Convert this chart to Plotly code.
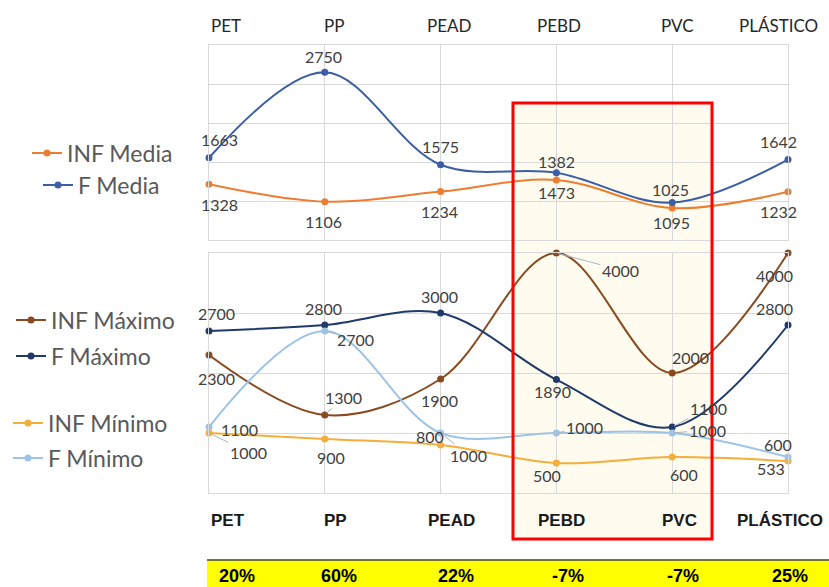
import plotly.graph_objects as go

# ---- data -------------------------------------------------------------
categories = ["PET", "PP", "PEAD", "PEBD", "PVC", "PLÁSTICO"]
inf_media = [1328, 1106, 1234, 1382, 1025, 1232]
f_media = [1663, 2750, 1575, 1473, 1095, 1642]
inf_maximo = [2300, 1300, 1900, 4000, 2000, 4000]
f_maximo = [2700, 2800, 3000, 1890, 1100, 2800]
inf_minimo = [1000, 900, 800, 500, 600, 533]
f_minimo = [1100, 2700, 1000, 1000, 1000, 600]
variacion = ["20%", "60%", "22%", "-7%", "-7%", "25%"]

# ---- canvas helpers ---------------------------------------------------
W, H = 829, 587


def px(x):
    return x / W


def py(y):
    return 1 - y / H


LABEL_FONT = dict(family="Lato, 'Open Sans', sans-serif", size=16, color="#404040")
LEGEND_FONT = dict(family="Lato, 'Open Sans', sans-serif", size=23, color="#595959")
GRID = "#D9D9D9"

# label offsets in pixels (dx, dy, leader line)
offsets = {
    "INF Media": [(10, 20, 0), (-1, 20, 0), (-1, 20, 0), (0, -18, 0), (-2, -19, 0), (-10, 20, 0)],
    "F Media": [(10, -18, 0), (-1, -16, 0), (0, -18, 0), (0, 20, 0), (-1, 20, 0), (-10, -18, 0)],
    "INF Máximo": [(7, 23, 0), (19, -18, 1), (-1, 21, 0), (64, 17, 1), (18, -16, 0), (-14, 22, 0)],
    "F Máximo": [(7, -18, 0), (-1, -17, 0), (-1, -17, 0), (-4, 12, 0), (36, -19, 1), (-14, -17, 0)],
    "INF Mínimo": [(39, 19, 1), (6, 18, 0), (-11, -9, 0), (-9, 12, 0), (12, 17, 0), (-17, 7, 0)],
    "F Mínimo": [(30, 2, 0), (31, 8, 1), (28, 22, 1), (28, -6, 1), (35, -3, 1), (-10, -13, 0)],
}

series = [
    # name, values, colour, axes, legend id, legend position (text start x, centre y)
    ("INF Media", inf_media, "#ED7D31", ("x", "y"), "legend", (66, 153)),
    ("F Media", f_media, "#3B5EA6", ("x", "y"), "legend2", (77, 185)),
    ("INF Máximo", inf_maximo, "#8A4A1F", ("x2", "y2"), "legend3", (50, 320)),
    ("F Máximo", f_maximo, "#1F3A6B", ("x2", "y2"), "legend4", (50, 356)),
    ("INF Mínimo", inf_minimo, "#F5AE3A", ("x2", "y2"), "legend5", (47, 423)),
    ("F Mínimo", f_minimo, "#9DC3E6", ("x2", "y2"), "legend6", (47, 458)),
]

fig = go.Figure()
annotations = []
legends = {}
x_idx = list(range(len(categories)))

for name, vals, color, (xa, ya), leg, (tx, ly) in series:
    fig.add_trace(go.Scatter(
        x=x_idx, y=vals, name=name, mode="lines+markers",
        line=dict(color=color, width=2, shape="spline", smoothing=1.0),
        marker=dict(color=color, size=7),
        xaxis=xa, yaxis=ya, legend=leg, cliponaxis=False,
        hoverinfo="skip",
    ))
    legends[leg] = dict(
        x=px(tx - 39), y=py(ly), xanchor="left", yanchor="middle",
        bgcolor="rgba(0,0,0,0)", font=LEGEND_FONT, borderwidth=0,
    )
    for i, v in enumerate(vals):
        dx, dy, lead = offsets[name][i]
        if lead:
            annotations.append(dict(
                x=i, y=v, xref=xa, yref=ya, text=str(v), font=LABEL_FONT,
                showarrow=True, arrowhead=0, arrowwidth=1, arrowcolor="#A9B4C2",
                ax=dx, ay=dy, standoff=2,
            ))
        else:
            annotations.append(dict(
                x=i, y=v, xref=xa, yref=ya, text=str(v), font=LABEL_FONT,
                showarrow=False, xshift=dx, yshift=-dy,
            ))

# category names above and below the panels, and the variation strip
cat_shift = [17, 9, 9, 3, 5, -10]
pct_shift = [28, 14, 15, 12, 11, 2]
for i, c in enumerate(categories):
    annotations.append(dict(
        x=i, y=py(25), xref="x", yref="paper", text=c, showarrow=False,
        xshift=cat_shift[i], yanchor="middle",
        font=dict(family="Lato, 'Open Sans', sans-serif", size=17, color="#262626"),
    ))
    annotations.append(dict(
        x=i, y=py(520), xref="x", yref="paper", text=f"<b>{c}</b>", showarrow=False,
        xshift=cat_shift[i] + 2, yanchor="middle",
        font=dict(family="'Liberation Sans', Arial, sans-serif", size=17, color="#1A1A1A"),
    ))
    annotations.append(dict(
        x=i, y=py(576), xref="x", yref="paper", text=f"<b>{variacion[i]}</b>",
        showarrow=False, xshift=pct_shift[i], yanchor="middle",
        font=dict(family="'Liberation Sans Narrow', 'Arial Narrow', 'Liberation Sans', sans-serif",
                  size=18, color="#000000"),
    ))

shapes = [
    # highlighted PEBD / PVC block
    dict(type="rect", xref="paper", yref="paper", x0=px(513), x1=px(712),
         y0=py(539), y1=py(103), fillcolor="#FFFCEF", line=dict(width=0), layer="below"),
    dict(type="rect", xref="paper", yref="paper", x0=px(513), x1=px(712),
         y0=py(539), y1=py(103), line=dict(color="#FF0000", width=3), layer="above"),
    # variation strip
    dict(type="rect", xref="paper", yref="paper", x0=px(207), x1=1.01,
         y0=-0.02, y1=py(560), fillcolor="#FFFF00", line=dict(width=0), layer="below"),
    dict(type="line", xref="paper", yref="paper", x0=px(207), x1=1.01,
         y0=py(560), y1=py(560), line=dict(color="#3F3F3F", width=1.5), layer="below"),
]

top_lo, top_hi = 619.4, 3096.8
axis_common = dict(showticklabels=False, showgrid=True, gridcolor=GRID, gridwidth=1,
                   zeroline=False, showline=True, mirror=True, linecolor=GRID,
                   linewidth=1, ticks="", fixedrange=True)

fig.update_layout(
    width=W, height=H,
    margin=dict(l=0, r=0, t=0, b=0),
    paper_bgcolor="white", plot_bgcolor="rgba(0,0,0,0)",
    xaxis=dict(domain=[px(209), px(788)], range=[0, 5], anchor="y",
               tickvals=x_idx, **axis_common),
    yaxis=dict(domain=[py(240), py(45)], range=[top_lo, top_hi], anchor="x",
               tick0=top_lo, dtick=(top_hi - top_lo) / 5, **axis_common),
    xaxis2=dict(domain=[px(209), px(788)], range=[0, 5], anchor="y2",
                tickvals=x_idx, **axis_common),
    yaxis2=dict(domain=[py(493), py(253)], range=[0, 4000], anchor="x2",
                tick0=0, dtick=1000, **axis_common),
    annotations=annotations,
    shapes=shapes,
    showlegend=True,
    **legends,
)

fig.write_html("out.html")
